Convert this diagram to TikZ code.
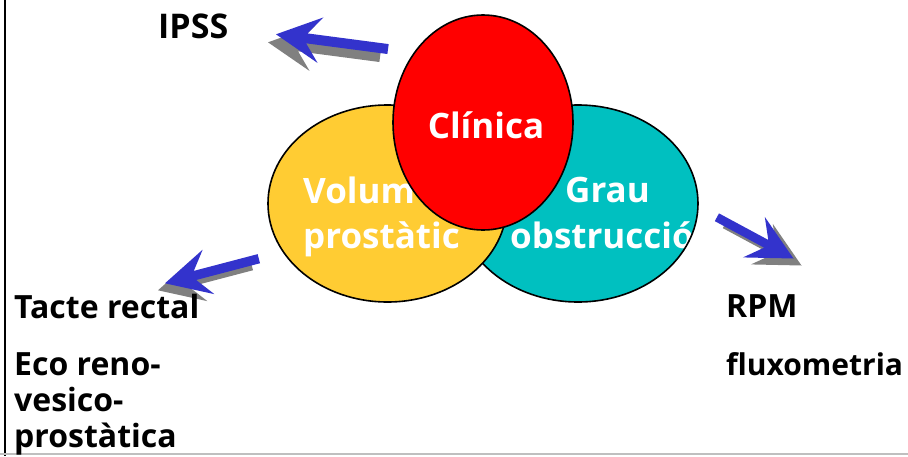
\documentclass[tikz,border=0pt]{standalone}
\usepackage{fontspec}
\setmainfont{Open Sans}
\begin{document}
\begin{tikzpicture}[x=1pt,y=-1pt,
  label/.style={inner sep=0pt, anchor=base west, font=\fontsize{32}{36}\selectfont\bfseries, text=black},
  wlabel/.style={inner sep=0pt, anchor=base west, font=\fontsize{35}{40}\selectfont\bfseries, text=white},
  outline/.style={draw=black, line width=1.6pt},
  arrowbody/.style={fill=arrowblue},
  arrowshadow/.style={fill=shadowgray}]
\definecolor{arrowblue}{RGB}{51,51,204}
\definecolor{shadowgray}{RGB}{128,128,128}
\definecolor{volumfill}{RGB}{255,204,51}
\definecolor{graufill}{RGB}{0,192,192}
\definecolor{clinicafill}{RGB}{255,0,0}
\useasboundingbox (0,0) rectangle (908,456);
\fill[white] (0,0) rectangle (908,456);

% frame edges
\draw[black, line width=2pt] (5,0) -- (5,456);
\draw[black!25, line width=1.5pt] (0,454) -- (908,454);

% block arrow with drop shadow: #1 tip, #2 rotation, #3 length, #4 half shaft width, #5 shadow offset
\newcommand{\fatarrow}[5]{%
  \fill[arrowshadow, shift={#5}, shift={#1}, rotate=#2]
    (0,0) -- (45,23) -- (31,#4) -- (#3,#4) -- (#3,-#4) -- (31,-#4) -- (45,-23) -- cycle;
  \fill[arrowbody, shift={#1}, rotate=#2]
    (0,0) -- (45,23) -- (31,#4) -- (#3,#4) -- (#3,-#4) -- (31,-#4) -- (45,-23) -- cycle;}

% obstruction circle, its text kept inside the outline
\fill[graufill] (578,203.5) ellipse [x radius=120, y radius=98.5];
\begin{scope}
  \clip (578,203.5) ellipse [x radius=120, y radius=98.5];
  \node[wlabel] (grau) at (565,202) {Grau};
  \node[wlabel] (obstr) at (510,248) {obstrucció};
\end{scope}
\draw[outline] (578,203.5) ellipse [x radius=120, y radius=98.5];

% prostate volume circle
\fill[volumfill] (387.5,203.5) ellipse [x radius=119.5, y radius=98.5];
\draw[outline] (387.5,203.5) ellipse [x radius=119.5, y radius=98.5];
\node[wlabel] (volum) at (303,203) {Volum};
\node[wlabel] (prost) at (303,248) {prostàtic};

% clinical circle
\fill[clinicafill] (483,122.5) ellipse [x radius=90, y radius=107.5];
\draw[outline] (483,122.5) ellipse [x radius=90, y radius=107.5];
\node[wlabel, anchor=base] (clin) at (486,138) {Clínica};

% arrows
\fatarrow{(276,34.3)}{-7.5}{113}{5}{(-8,8)}
\fatarrow{(165,283.3)}{14.7}{97}{4.7}{(-7,7)}
\fatarrow{(793.5,258.5)}{151.7}{87}{4.4}{(8,7)}

% outer labels
\node[label, font=\fontsize{34}{36}\selectfont\bfseries] (ipss) at (158,38) {IPSS};
\node[label] (tacte) at (14,318) {Tacte rectal};
\node[label] (eco1) at (14,375) {Eco reno-};
\node[label] (eco2) at (14,411) {vesico-};
\node[label] (eco3) at (14,447) {prostàtica};
\node[label] (rpm) at (726,317) {RPM};
\node[label, font=\fontsize{30}{36}\selectfont\bfseries] (flux) at (726,375) {fluxometria};
\end{tikzpicture}
\end{document}
